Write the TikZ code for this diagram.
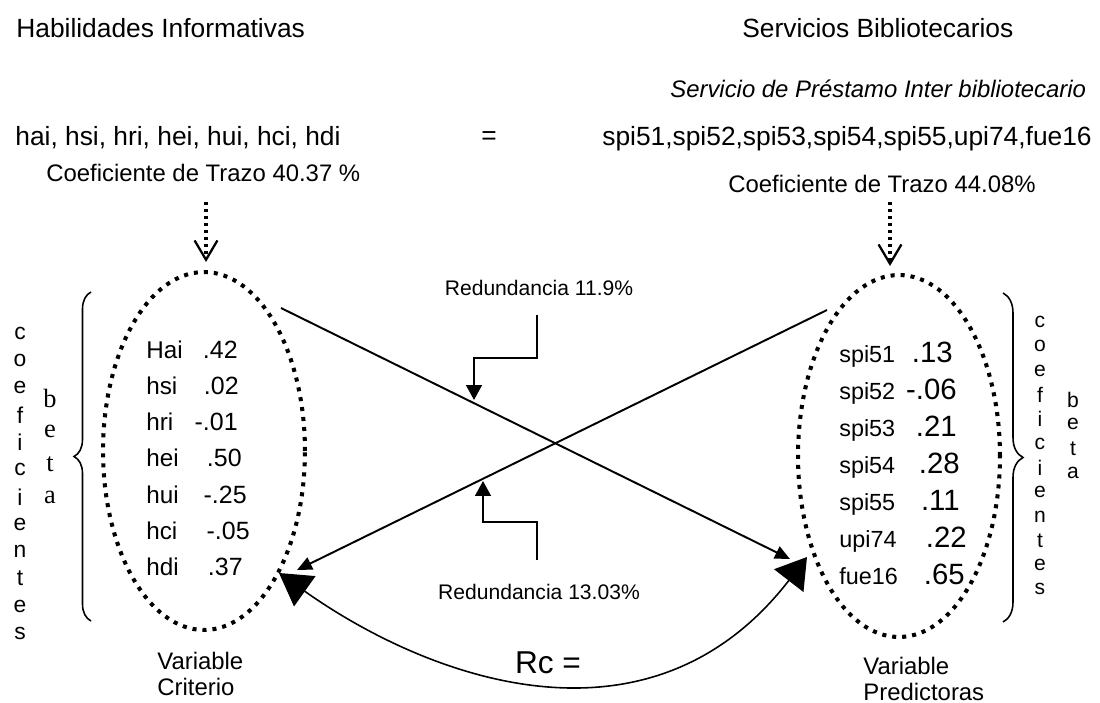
\documentclass[tikz,border=0pt]{standalone}
\usepackage{fontspec}
\setmainfont{Liberation Sans}
\newfontfamily\betafont{Liberation Serif}
\usetikzlibrary{arrows.meta,shapes.geometric,decorations.pathreplacing}

\tikzset{
  dotline/.style={line width=2.3pt, dash pattern=on 2.3pt off 3.4pt},
  dotarrow/.style={line width=1.8pt, dash pattern=on 1.8pt off 2.2pt,
      -{Straight Barb[length=11pt,width=13pt,line width=1.3pt]}},
  conn/.style={line width=1.1pt, -{Triangle[length=8.5pt,width=7.5pt]}},
  stepline/.style={line width=1.1pt, -{Triangle[length=8.5pt,width=9pt]}},
  rcline/.style={line width=0.9pt,
      {Triangle[length=18pt,width=21pt]}-{Triangle[length=17pt,width=21pt]}},
  bracemark/.style={decorate, line width=0.9pt},
  big/.style={inner sep=0pt, font=\fontsize{15}{17}\selectfont},
  mid/.style={inner sep=0pt, font=\fontsize{13.6}{16}\selectfont},
  small/.style={inner sep=0pt, font=\fontsize{12}{14}\selectfont},
  letterL/.style={inner sep=0pt, font=\fontsize{13}{15}\selectfont},
  letterR/.style={inner sep=0pt, font=\fontsize{12}{14}\selectfont},
}

\begin{document}
\begin{tikzpicture}[x=0.02cm, y=-0.02cm]
    \useasboundingbox (0,0) rectangle (1100,703);
    % titles
    \node[big, anchor=base west] (habil) at (16,37) {Habilidades Informativas};
    \node[big, anchor=base west] (servi) at (742,37) {Servicios Bibliotecarios};
    \node[mid, anchor=base west] (prestamo) at (670,97)
      {\itshape Servicio de Préstamo Inter bibliotecario};
    \node[big, anchor=base west] (hvars) at (15,145) {hai, hsi, hri, hei, hui, hci, hdi};
    \node[big] (eq) at (489,138) {=};
    \node[big, anchor=base west] (svars) at (602,145) {spi51,spi52,spi53,spi54,spi55,upi74,fue16};
    \node[mid, anchor=base west] (trazoL) at (46,181) {Coeficiente de Trazo 40.37 \%};
    \node[mid, anchor=base west] (trazoR) at (728,192) {Coeficiente de Trazo 44.08\%};

    % the two sets of variables
    \node[ellipse, dotline, draw, inner sep=0pt, minimum width=4.04cm, minimum height=7.16cm]
      (elL) at (204,451) {};
    \node[ellipse, dotline, draw, inner sep=0pt, minimum width=4.04cm, minimum height=7.24cm]
      (elR) at (899,456) {};

    \coordinate (inL) at (206,202);
    \coordinate (tipL) at (206,262);
    \coordinate (inR) at (890,202);
    \coordinate (tipR) at (890,266);
    \draw[dotarrow] (inL) -- (tipL);
    \draw[dotarrow] (inR) -- (tipR);

    \foreach \name/\val/\ex [count=\i] in {Hai/.42/238, hsi/.02/239, hri/-.01/238,
        hei/.50/242, hui/-.25/247, hci/-.05/250, hdi/.37/243}{
        \node[inner sep=0pt, anchor=base west, font=\fontsize{13.8}{16}\selectfont]
          (nL\i) at (146,{358+36.3*(\i-1)}) {\name};
        \node[inner sep=0pt, anchor=base east, font=\fontsize{14.2}{16}\selectfont]
          (vL\i) at (\ex,{358+36.3*(\i-1)}) {\val};
      }
    \foreach \name/\val/\ex [count=\i] in {spi51/.13/953, spi52/-.06/957, spi53/.21/957,
        spi54/.28/960, spi55/.11/960, upi74/.22/967, fue16/.65/965}{
        \node[inner sep=0pt, anchor=base west, font=\fontsize{13.3}{16}\selectfont]
          (nR\i) at (839,{362+37*(\i-1)}) {\name};
        \node[inner sep=0pt, anchor=base east, font=\fontsize{16.7}{19}\selectfont]
          (vR\i) at (\ex,{362+37*(\i-1)}) {\val};
      }

    % braces and their words
    \coordinate (brLa) at (91,621);
    \coordinate (brLb) at (91,292);
    \coordinate (brRa) at (1003,293);
    \coordinate (brRb) at (1003,622);
    \draw[bracemark, decoration={brace, amplitude=0.34cm}] (brLa) -- (brLb);
    \draw[bracemark, decoration={brace, amplitude=0.4cm}] (brRa) -- (brRb);
    \foreach \ch [count=\i] in {c,o,e,f,i,c,i,e,n,t,e,s}{
        \node[letterL] (cL\i) at (20,{333+27.3*(\i-1)}) {\ch};
        \node[letterR] (cR\i) at (1040,{322+24.3*(\i-1)}) {\ch};
      }
    \foreach \ch [count=\i] in {b,e,t,a}{
        \node[inner sep=0pt, font=\betafont\fontsize{15}{17}\selectfont]
          (bL\i) at (50,{398+33*(\i-1)}) {\ch};
        \node[letterR] (bR\i) at (1073,{400+24.4*(\i-1)}) {\ch};
      }

    % crossing lines
    \coordinate (aS) at (281,308);
    \coordinate (aE) at (790,559);
    \coordinate (bS) at (827,310);
    \coordinate (bE) at (297,570);
    \draw[conn] (aS) -- (aE);
    \draw[conn] (bS) -- (bE);

    \node[small] (redA) at (539,288) {Redundancia 11.9\%};
    \node[small] (redB) at (539,592) {Redundancia 13.03\%};
    \coordinate (sA) at (537,315);
    \coordinate (sAt) at (474,400);
    \coordinate (sB) at (537,560);
    \coordinate (sBt) at (483,481);
    \draw[stepline] (sA) -- ++(0,43) -| (sAt);
    \draw[stepline] (sB) -- ++(0,-38) -| (sBt);

    % canonical correlation
    \coordinate (rcL) at (279,573);
    \coordinate (rcR) at (807,557);
    \draw[rcline] (rcL) .. controls (430,680) and (650,760) .. (rcR);
    \node[inner sep=0pt, font=\fontsize{18}{20}\selectfont] (rc) at (548,663) {Rc =};

    \node[mid, anchor=base west, align=left] (varL) at (157,695)
      {Variable\\[-1.6pt]Criterio};
    \node[mid, anchor=base west, align=left] (varR) at (863,700)
      {Variable\\[-1.6pt]Predictoras};
  \end{tikzpicture}
\end{document}
